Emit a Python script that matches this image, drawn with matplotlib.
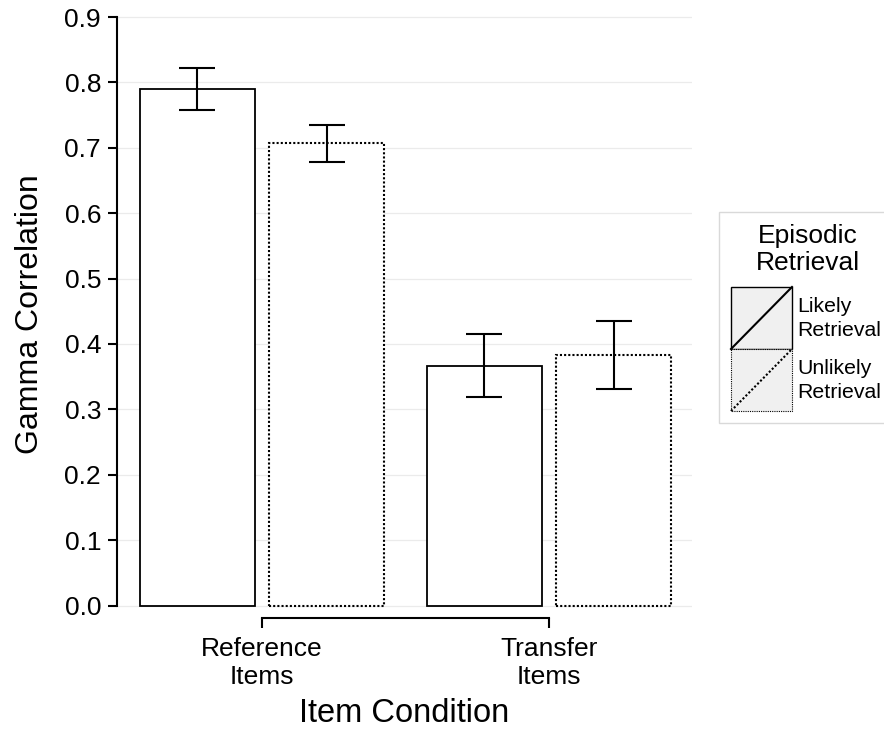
import matplotlib
matplotlib.use("Agg")
import matplotlib.pyplot as plt
from matplotlib.patches import Rectangle
from matplotlib.lines import Line2D
import numpy as np

plt.rcParams['font.family'] = ['Liberation Sans', 'DejaVu Sans']

# ---- data ----
groups = ["Reference\nItems", "Transfer\nItems"]
series = ["Likely\nRetrieval", "Unlikely\nRetrieval"]
likely_vals = [0.790, 0.367]
likely_err = [0.032, 0.048]
unlikely_vals = [0.707, 0.383]
unlikely_err = [0.028, 0.052]
yticks = [0.0, 0.1, 0.2, 0.3, 0.4, 0.5, 0.6, 0.7, 0.8, 0.9]
ylabel = "Gamma Correlation"
xlabel = "Item Condition"
legend_title = ["Episodic", "Retrieval"]

W, H = 884, 731
fig = plt.figure(figsize=(W / 100, H / 100), dpi=100)

ax_left, ax_right, ax_top, ax_bottom = 117, 692, 10, 618
ax = fig.add_axes([ax_left / W, 1 - ax_bottom / H,
                   (ax_right - ax_left) / W, (ax_bottom - ax_top) / H])

y0_px, y9_px = 605.5, 17.0
per = (y0_px - y9_px) / 0.9
ymin = -(ax_bottom - y0_px) / per
ymax = 0.9 + (y9_px - ax_top) / per

x1_px, x2_px = 262.0, 549.0
perx = x2_px - x1_px
xmin = 1 + (ax_left - x1_px) / perx
xmax = 1 + (ax_right - x1_px) / perx

ax.set_xlim(xmin, xmax)
ax.set_ylim(ymin, ymax)

xpos = np.arange(1, len(groups) + 1)
bw = 0.40
off = 0.225
dotted = (0, (1.0, 1.0))

ax.bar(xpos - off, likely_vals, width=bw, facecolor='white', edgecolor='black',
       linewidth=1.3, zorder=2)
ax.bar(xpos + off, unlikely_vals, width=bw, facecolor='white', edgecolor='black',
       linewidth=1.5, linestyle=dotted, zorder=2)
ax.errorbar(xpos - off, likely_vals, yerr=likely_err, fmt='none', ecolor='black',
            elinewidth=1.5, capsize=13, capthick=1.5, zorder=3)
ax.errorbar(xpos + off, unlikely_vals, yerr=unlikely_err, fmt='none', ecolor='black',
            elinewidth=1.5, capsize=13, capthick=1.5, zorder=3)

# grid
for yt in yticks:
    ax.axhline(yt, color='#ebebeb', lw=0.9, zorder=0)

ax.set_yticks(yticks)
ax.set_yticklabels([f"{v:.1f}" for v in yticks])
ax.set_xticks(xpos)
ax.set_xticklabels(groups, linespacing=1.2)

for s in ['top', 'right']:
    ax.spines[s].set_visible(False)
ax.spines['left'].set_bounds(0, 0.9)
ax.spines['bottom'].set_bounds(1, 2)
ax.spines['left'].set_linewidth(1.5)
ax.spines['bottom'].set_linewidth(1.5)

ax.tick_params(axis='y', length=6.5, width=1.5, pad=5, labelsize=19, colors='black')
ax.tick_params(axis='x', length=7, width=1.5, pad=6.5, labelsize=19, colors='black')

ax.set_xlabel(xlabel, fontsize=23.5, va='baseline')
ax.xaxis.set_label_coords(0.5, (ax_bottom - 722) / (ax_bottom - ax_top))
ax.set_ylabel(ylabel, fontsize=23, va='center')
ax.yaxis.set_label_coords((30 - ax_left) / (ax_right - ax_left), 0.5)

# ---- legend (drawn in pixel coordinates) ----
lax = fig.add_axes([0, 0, 1, 1], zorder=5)
lax.set_xlim(0, W)
lax.set_ylim(H, 0)
lax.axis('off')
lax.patch.set_alpha(0)

lax.add_patch(Rectangle((719, 212), 200, 211, facecolor='white',
                        edgecolor='#d9d9d9', lw=1.0))
lax.text(808, 236, legend_title[0], ha='center', va='center', fontsize=19)
lax.text(808, 263, legend_title[1], ha='center', va='center', fontsize=19)

keys = [(287, '-'), (349, dotted)]
for (ktop, ls), lab in zip(keys, series):
    kx, kw, kh = 731, 61, 62
    lax.add_patch(Rectangle((kx, ktop), kw, kh, facecolor='#f0f0f0',
                            edgecolor='black', lw=0.8 if ls != '-' else 1.0,
                            linestyle=ls))
    lax.add_line(Line2D([kx, kx + kw], [ktop + kh, ktop], color='black',
                        lw=1.5, linestyle=ls))
    l1, l2 = lab.split("\n")
    lax.text(797, ktop + 20, l1, ha='left', va='center', fontsize=15.3)
    lax.text(797, ktop + 43, l2, ha='left', va='center', fontsize=15.3)

fig.savefig("out.png", dpi=100, facecolor='white')
